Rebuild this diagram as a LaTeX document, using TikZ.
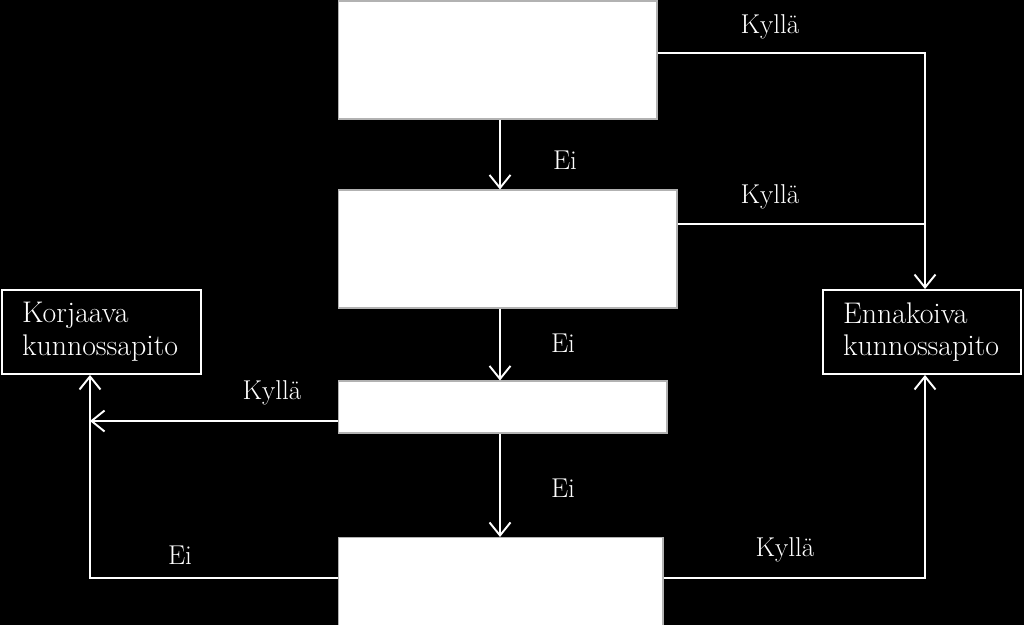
\documentclass[tikz,border=0pt]{standalone}
\usepackage{tikz}
\usetikzlibrary{arrows.meta, positioning, calc}

\begin{document}
\begin{tikzpicture}[
    x=0.02cm, y=-0.02cm,
    >={Straight Barb[length=0.26cm, width=0.42cm, line width=1.1pt]},
    every path/.style={white, line width=1.1pt},
    qbox/.style={draw=gray!60, fill=white, line width=0.6pt, inner sep=0pt},
    endbox/.style={draw=white, fill=black, line width=1.1pt, text=white,
                   inner xsep=0.4cm, inner ysep=0pt, align=left,
                   font=\fontsize{17}{18.7}\selectfont},
    lbl/.style={text=white, inner sep=0pt,
                font=\fontsize{15.5}{18.5}\selectfont}
  ]
  % Background
  \fill[black] (0,0) rectangle (1024,625);
  \useasboundingbox (0,0) rectangle (1024,625);

  % Question boxes (centre column)
  \node[qbox, minimum width=6.38cm, minimum height=2.36cm] (q1) at (497.5,60) {};
  \node[qbox, minimum width=6.78cm, minimum height=2.36cm] (q2) at (507.5,249) {};
  \node[qbox, minimum width=6.58cm, minimum height=1.04cm] (q3) at (502.5,407) {};
  \node[qbox, minimum width=6.50cm, minimum height=1.78cm] (q4) at (500.5,582) {};

  % Outcomes
  \node[endbox, minimum width=3.98cm, minimum height=1.68cm,
        text width=3.18cm] (kor) at (101.5,332) {Korjaava\\kunnossapito};
  \node[endbox, minimum width=3.96cm, minimum height=1.68cm,
        text width=3.16cm] (enn) at (922,332) {Ennakoiva\\kunnossapito};

  % Helper coordinates for the routing
  \coordinate (mid) at (500,0);
  \coordinate (lx) at (90,0);
  \coordinate (rx) at (925,0);
  \coordinate (r1) at (0,53);
  \coordinate (r2) at (0,224);
  \coordinate (l3) at (0,421);
  \coordinate (r4) at (0,578);

  % "Ei" chain down the middle
  \draw[->] (q1.south -| mid) -- (q2.north -| mid);
  \draw[->] (q2.south -| mid) -- (q3.north -| mid);
  \draw[->] (q3.south -| mid) -- (q4.north -| mid);

  % "Kyllä" branches to the right
  \draw[->] (q1.east |- r1) -- (rx |- r1) -- (enn.north -| rx);
  \draw (q2.east |- r2) -- (rx |- r2);
  \draw[->] (q4.east |- r4) -- (rx |- r4) -- (enn.south -| rx);

  % Branches to the left
  \draw[->] (q3.west |- l3) -- (lx |- l3);
  \draw[->] (q4.west |- r4) -- (lx |- r4) -- (kor.south -| lx);

  % Labels
  \node[lbl] (y1) at (770,27) {Kyllä};
  \node[lbl] (n1) at (565,160) {Ei};
  \node[lbl] (y2) at (770,197) {Kyllä};
  \node[lbl] (n2) at (563,343) {Ei};
  \node[lbl] (y3) at (272,393) {Kyllä};
  \node[lbl] (n3) at (563,488) {Ei};
  \node[lbl] (n4) at (180,555) {Ei};
  \node[lbl] (y4) at (785,550) {Kyllä};
\end{tikzpicture}
\end{document}
